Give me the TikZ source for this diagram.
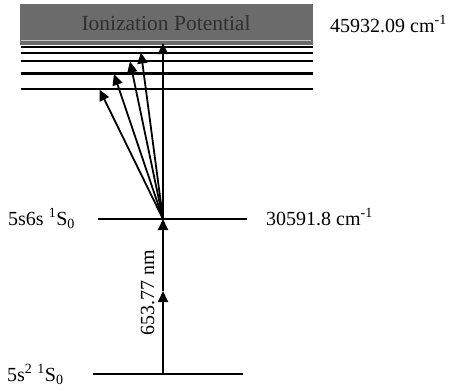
\documentclass[tikz,border=0pt]{standalone}
\usepackage{fontspec}
\setmainfont{Liberation Serif}
\usetikzlibrary{arrows.meta}
\definecolor{boxgray}{HTML}{6B6B6B}
\definecolor{titlegray}{HTML}{303030}
\begin{document}
\begin{tikzpicture}[x=1pt,y=-1pt,
  level/.style={line width=2.2pt,draw=black},
  trans/.style={line width=1.8pt,-{Triangle[length=11pt,width=10pt]}},
  lbl/.style={inner sep=0pt,font=\fontsize{20}{24}\selectfont,anchor=base west},
]
\useasboundingbox (0,0) rectangle (453,391);
% ionization continuum box
\node[fill=boxgray,minimum width=293pt,minimum height=40.5pt,inner sep=0pt,anchor=north west] (ip) at (20,4) {};
\draw[line width=1pt,draw=gray!45] (21,40.5) -- (311,40.5);
\node[inner sep=0pt,text=titlegray,font=\fontsize{21.5}{24}\selectfont] (iptext) at (166,23) {Ionization Potential};
\node[lbl] (ipval) at (330,32) {45932.09 cm\textsuperscript{-1}};
% Rydberg levels
\foreach \y/\n in {46.7/r1,53/r2,61/r3,73.5/r4,89/r5}{
  \coordinate (\n w) at (20.5,\y);
  \coordinate (\n e) at (313,\y);
  \draw[level] (\n w) -- (\n e);
}
% 5s6s level
\coordinate (mw) at (98,219);
\coordinate (me) at (247,219);
\coordinate (mid) at (163,219);
\draw[level] (mw) -- (me);
\node[lbl] (mlab) at (8,225) {5s6s \textsuperscript{1}S\textsubscript{0}};
\node[lbl] (mval) at (266,225.5) {30591.8 cm\textsuperscript{-1}};
% ground level
\coordinate (gw) at (93,374);
\coordinate (ge) at (243,374);
\coordinate (g) at (163,374);
\coordinate (half) at (163,291);
\draw[level] (gw) -- (ge);
\node[lbl] (glab) at (7,381) {5s\textsuperscript{2} \textsuperscript{1}S\textsubscript{0}};
% excitation 653.77 nm
\draw[trans] (g) -- (half);
\draw[trans] (half) -- (mid);
\node[inner sep=0pt,rotate=90,anchor=base,font=\fontsize{20}{24}\selectfont] (wl) at (154,293) {653.77 nm};
% arrows to Rydberg levels and ionization
\coordinate (t0) at (163,43);
\coordinate (t1) at (141,52.5);
\coordinate (t2) at (130,61.5);
\coordinate (t3) at (114,74);
\coordinate (t4) at (99.5,89.5);
\foreach \t in {t0,t1,t2,t3,t4}{
  \draw[trans] (mid) -- (\t);
}
\end{tikzpicture}
\end{document}
